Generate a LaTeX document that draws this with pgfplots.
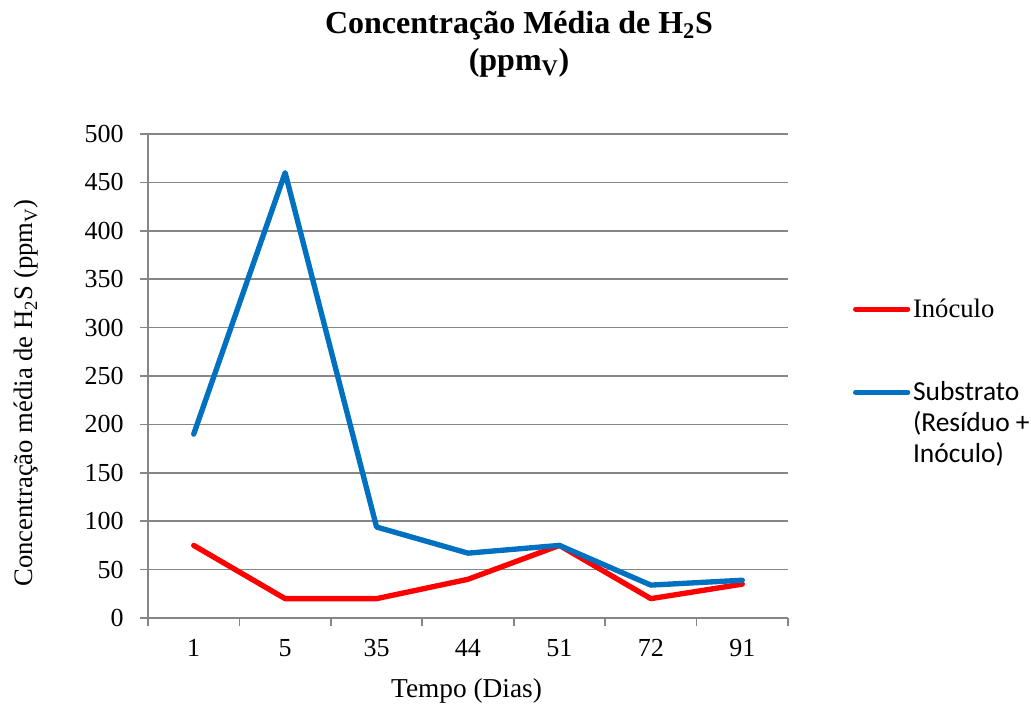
\documentclass[border=0pt]{standalone}
\usepackage{pgfplots}
\pgfplotsset{compat=1.18}
\usepackage{fontspec}
\setmainfont{Liberation Serif}
\newfontfamily\carlito{Carlito}

\definecolor{inoc}{RGB}{255,0,0}
\definecolor{subst}{RGB}{0,112,192}
\definecolor{gridgray}{RGB}{134,134,134}

\begin{document}
\begin{tikzpicture}[x=1pt,y=1pt]
\useasboundingbox (-111,-64.5) rectangle (662.25,463.5);
\begin{axis}[
  at={(0,0)}, anchor=south west,
  scale only axis, width=480pt, height=363pt,
  xmin=-0.5, xmax=6.5, ymin=0, ymax=500,
  axis lines=left,
  axis line style={draw=gridgray, line width=1.2pt, -},
  xtick={0,...,6},
  xticklabels={1,5,35,44,51,72,91},
  minor xtick={-0.5,0.5,...,6.5},
  ytick={0,50,...,500},
  tick align=outside,
  major tick length=6pt, minor tick length=6pt,
  major x tick style={draw=none},
  minor tick style={draw=gridgray, line width=1.2pt},
  major tick style={draw=gridgray, line width=1.2pt},
  ymajorgrids=true,
  grid style={draw=gridgray, line width=1.2pt},
  /pgf/number format/assume math mode=true,
  tick label style={font=\fontsize{19.5}{23}\selectfont, inner sep=0pt},
  xticklabel style={anchor=north, yshift=-10pt},
  yticklabel style={anchor=east, xshift=-12pt},
  legend style={at={(1.1016,0.6653)}, anchor=north west, draw=none, fill=none,
    inner sep=0pt, outer sep=0pt, row sep=40.5pt, column sep=0pt,
    cells={anchor=base west, inner sep=0pt},
    font=\fontsize{20}{23.25}\selectfont},
  legend image code/.code={\draw[#1] (0pt,6pt) -- (39pt,6pt);},
  every axis plot/.append style={line width=4pt, line cap=round, line join=round},
]
\addplot[color=inoc] coordinates {
  (0,75) (1,20) (2,20) (3,40) (4,75) (5,20) (6,35)
};
\addlegendentry{Inóculo}
\addplot[color=subst] coordinates {
  (0,190) (1,460) (2,94) (3,67) (4,75) (5,34) (6,39)
};
\addlegendentry{{\carlito\fontsize{20.6}{23.25}\selectfont\begin{tabular}[t]{@{}l@{}}Substrato\\(Resíduo +\\Inóculo)\end{tabular}}}
\end{axis}

% chart title
\node[anchor=base, font=\bfseries\fontsize{24}{28}\selectfont, inner sep=0pt]
  at (278.25,438) {Concentração Média de H\textsubscript{2}S};
\node[anchor=base, font=\bfseries\fontsize{24}{28}\selectfont, inner sep=0pt]
  at (278.25,410.5) {(ppm\textsubscript{V})};

% axis titles
\node[anchor=base, rotate=90, font=\fontsize{20}{24}\selectfont, inner sep=0pt]
  at (-86.25,168.75) {Concentração média de H\textsubscript{2}S (ppm\textsubscript{V})};
\node[anchor=base, font=\fontsize{20.5}{24}\selectfont, inner sep=0pt]
  at (238.9,-59.25) {Tempo (Dias)};
\end{tikzpicture}
\end{document}
